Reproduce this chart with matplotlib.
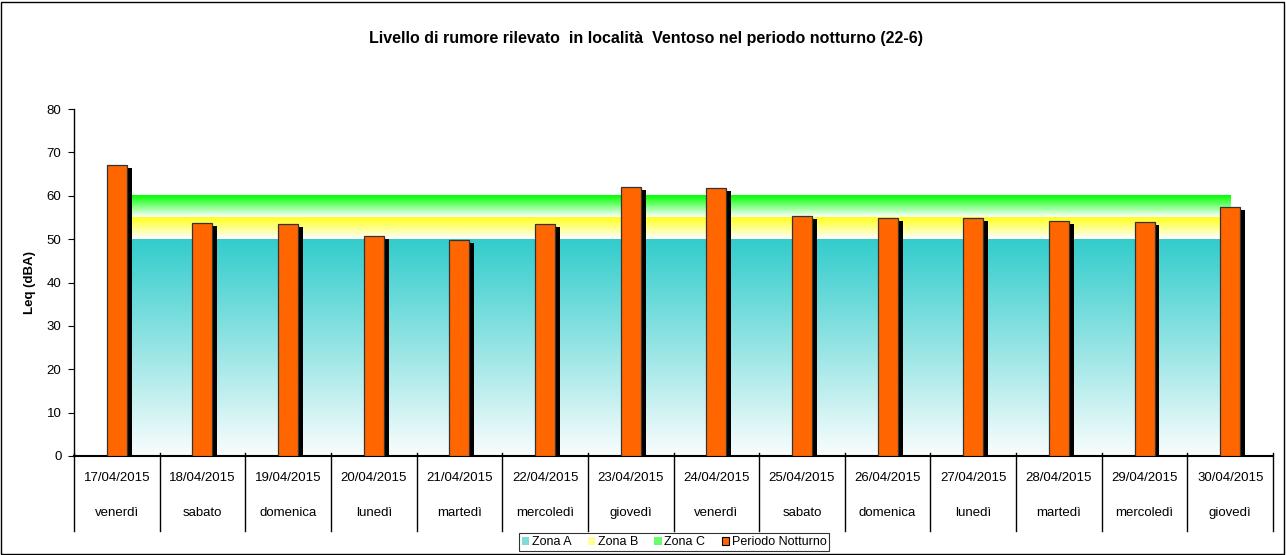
import matplotlib
matplotlib.use("Agg")
import matplotlib.pyplot as plt
import numpy as np
from matplotlib.patches import Patch, Rectangle
from matplotlib.colors import LinearSegmentedColormap

plt.rcParams['font.family'] = ['Liberation Sans', 'DejaVu Sans']

dates = ["17/04/2015", "18/04/2015", "19/04/2015", "20/04/2015", "21/04/2015",
         "22/04/2015", "23/04/2015", "24/04/2015", "25/04/2015", "26/04/2015",
         "27/04/2015", "28/04/2015", "29/04/2015", "30/04/2015"]
weekdays = ["venerdì", "sabato", "domenica", "lunedì", "martedì", "mercoledì",
            "giovedì", "venerdì", "sabato", "domenica", "lunedì", "martedì",
            "mercoledì", "giovedì"]
notturno = [67.0, 53.7, 53.5, 50.7, 49.9, 53.5, 62.1, 61.9, 55.4, 54.9, 54.9, 54.2, 53.9, 57.3]
zona_a = 50
zona_b = 55
zona_c = 60

fig = plt.figure(figsize=(12.86, 5.55), dpi=100)
ax = fig.add_axes([74/1286, 1-456/555, (1273-74)/1286, (456-109)/555])

n = len(dates)
x = np.arange(n)

def grad_band(y0, y1, top_color, bottom_color):
    cmap = LinearSegmentedColormap.from_list("g", [bottom_color, top_color])
    grad = np.linspace(0, 1, 256).reshape(-1, 1)
    ax.imshow(grad, cmap=cmap, origin='lower', aspect='auto',
              extent=(x[0], x[-1], y0, y1), zorder=1, interpolation='bilinear')

grad_band(0, zona_a, "#33CCCC", "#FAFDFD")
grad_band(zona_a, zona_b, "#FFFF1A", "#FFFFFF")
grad_band(zona_b, zona_c, "#00FF00", "#FFFFFF")
ax.set_xlim(-0.5, n - 0.5)
ax.set_ylim(0, 80)

bw = 0.233
dx = 0.058
dy = 0.7
ax.bar(x + dx, np.array(notturno) - dy, width=bw, color="black", zorder=2, linewidth=0)
ax.bar(x, notturno, width=bw, color="#FF6600", edgecolor="#333333", linewidth=0.9, zorder=3)

ax.spines['top'].set_visible(False)
ax.spines['right'].set_visible(False)
ax.spines['left'].set_linewidth(1.0)
ax.spines['bottom'].set_linewidth(1.5)
ax.set_yticks(np.arange(0, 81, 10))
ax.tick_params(axis='y', direction='out', length=4, labelsize=9.5, pad=5)
ax.set_xticks([])
ax.set_ylabel("Leq (dBA)", fontsize=9.5, fontweight='bold', labelpad=8)

# category separators and labels
for i in range(n + 1):
    bx = i / n
    line = plt.Line2D([bx, bx], [-0.215, 0.008], transform=ax.transAxes,
                      color="black", linewidth=1.0, clip_on=False)
    ax.add_line(line)
for i in range(n):
    ax.text(x[i], -0.064, dates[i], transform=ax.get_xaxis_transform(),
            ha='center', va='center', fontsize=9.5)
    ax.text(x[i], -0.164, weekdays[i], transform=ax.get_xaxis_transform(),
            ha='center', va='center', fontsize=9.5)

fig.text(646/1286, 1 - 38/555, "Livello di rumore rilevato  in località  Ventoso nel periodo notturno (22-6)",
         ha='center', va='center', fontsize=11.5, fontweight='bold')

handles = [Patch(facecolor="#7FDADA", edgecolor="none", label="Zona A"),
           Patch(facecolor="#FFFF99", edgecolor="none", label="Zona B"),
           Patch(facecolor="#66FF66", edgecolor="none", label="Zona C"),
           Patch(facecolor="#FF6600", edgecolor="black", linewidth=0.8, label="Periodo Notturno")]
leg = fig.legend(handles=handles, loc='center', bbox_to_anchor=(674/1286, 1 - 542/555),
                 ncol=4, fontsize=9, frameon=True, fancybox=False, edgecolor="black",
                 handlelength=0.6, handleheight=0.6, handletextpad=0.2, columnspacing=1.3,
                 borderpad=0.25, borderaxespad=0)
leg.get_frame().set_linewidth(0.8)

fig.patches.append(Rectangle((1/1286, 1/555), 1 - 3/1286, 1 - 3/555, transform=fig.transFigure,
                             fill=False, edgecolor="black", linewidth=1.0))

fig.savefig("out.png", dpi=100)
